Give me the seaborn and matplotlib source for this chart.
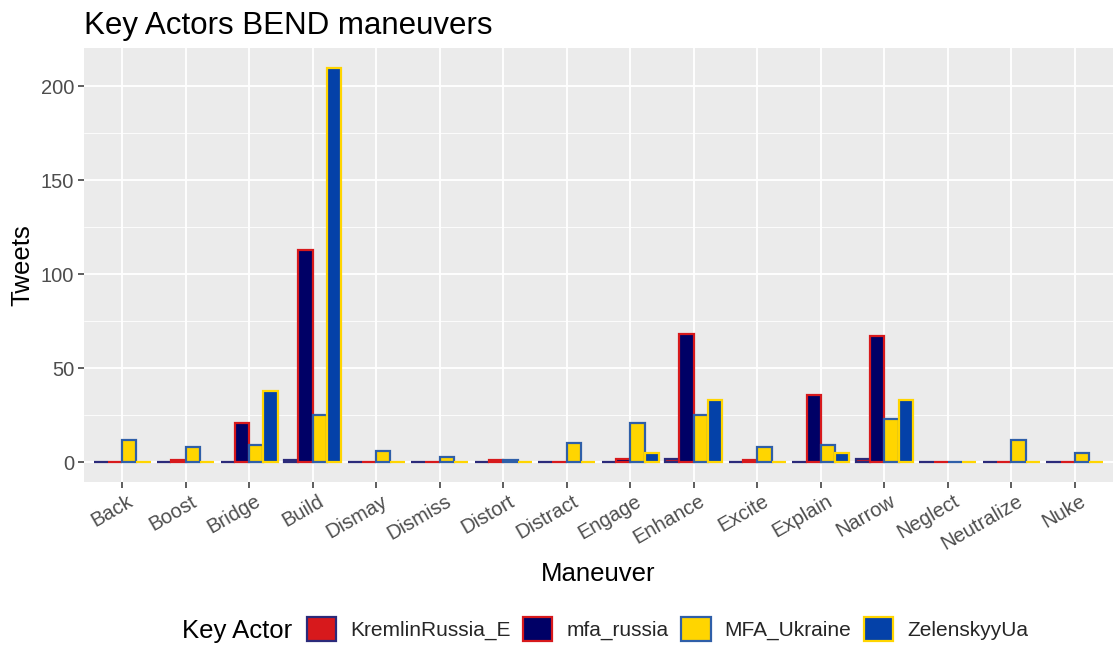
import numpy as np
import pandas as pd
import matplotlib
matplotlib.use("Agg")
import matplotlib.pyplot as plt
import matplotlib.transforms as mtransforms
import seaborn as sns
from matplotlib.patches import Patch

maneuvers = ["Back", "Boost", "Bridge", "Build", "Dismay", "Dismiss", "Distort",
             "Distract", "Engage", "Enhance", "Excite", "Explain", "Narrow",
             "Neglect", "Neutralize", "Nuke"]
actors = ["KremlinRussia_E", "mfa_russia", "MFA_Ukraine", "ZelenskyyUa"]

kremlin = [0, 0, 0, 1, 0, 0, 0, 0, 0, 2, 0, 0, 2, 0, 0, 0]
mfa_russia = [0, 1, 21, 113, 0, 0, 1, 0, 2, 68, 1, 36, 67, 0, 0, 0]
mfa_ukraine = [12, 8, 9, 25, 6, 3, 1, 10, 21, 25, 8, 9, 23, 0, 12, 5]
zelensky = [0, 0, 38, 210, 0, 0, 0, 0, 5, 33, 0, 5, 33, 0, 0, 0]

fills = {"KremlinRussia_E": "#D7191C", "mfa_russia": "#000066",
         "MFA_Ukraine": "#FFD500", "ZelenskyyUa": "#0441A8"}
edges = {"KremlinRussia_E": "#2B2A7A", "mfa_russia": "#D7191C",
         "MFA_Ukraine": "#2F5FA8", "ZelenskyyUa": "#FFD500"}

df = pd.DataFrame({
    "Maneuver": maneuvers * 4,
    "Key Actor": np.repeat(actors, len(maneuvers)),
    "Tweets": kremlin + mfa_russia + mfa_ukraine + zelensky,
})

sns.set_theme(style="darkgrid", rc={
    "axes.facecolor": "#EBEBEB", "grid.color": "white",
    "axes.edgecolor": "none",
    "xtick.bottom": True, "ytick.left": True,
    "xtick.major.size": 4.5, "ytick.major.size": 4.5,
    "xtick.major.width": 1.1, "ytick.major.width": 1.1,
    "xtick.color": "#333333", "ytick.color": "#333333"})
plt.rcParams["font.family"] = ["Liberation Sans", "DejaVu Sans"]

fig = plt.figure(figsize=(11.16, 6.45), dpi=100)
ax = fig.add_axes([0.0753, 0.2527, 0.922, 0.673])

sns.barplot(data=df, x="Maneuver", y="Tweets", hue="Key Actor",
            hue_order=actors, palette=fills, width=0.9, ax=ax,
            legend=False, saturation=1, linewidth=1.6)

for container, actor in zip(ax.containers, actors):
    for bar in container:
        bar.set_edgecolor(edges[actor])
        bar.set_linewidth(1.6)

ax.set_ylim(-10.5, 220.5)
ax.set_xlim(-0.6, len(maneuvers) - 0.4)
ax.set_yticks([0, 50, 100, 150, 200])
ax.set_yticks([25, 75, 125, 175], minor=True)
ax.grid(True, which="major", color="white", linewidth=1.3)
ax.grid(True, which="minor", axis="y", color="white", linewidth=0.6)
ax.set_axisbelow(True)

ax.tick_params(axis="both", which="major", labelsize=14.5,
               labelcolor="#4D4D4D", bottom=True, left=True, length=4.5,
               width=1.1, color="#333333", pad=2.5)
ax.tick_params(axis="y", which="minor", length=0)
# rotated category labels, nudged slightly right of their ticks
shift = mtransforms.ScaledTranslation(5 / 100, 0, fig.dpi_scale_trans)
for lbl in ax.get_xticklabels():
    lbl.set_rotation(30)
    lbl.set_ha("right")
    lbl.set_rotation_mode("anchor")
    lbl.set_transform(lbl.get_transform() + shift)
ax.set_xlabel("Maneuver", fontsize=18.5, color="black", labelpad=6)
ax.set_ylabel("Tweets", fontsize=18.5, color="black", labelpad=5)
ax.set_title("Key Actors BEND maneuvers", fontsize=22.5, loc="left",
             color="black", pad=10, x=0.0)

handles = [Patch(facecolor=fills[a], edgecolor=edges[a], linewidth=1.6)
           for a in actors]
fig.text(0.163, 0.021, "Key Actor", fontsize=18.5, color="black", va="center")
fig.legend(handles, actors, loc="lower left", bbox_to_anchor=(0.273, 0.003),
           ncol=4, frameon=False, fontsize=15, handlelength=1.4,
           handleheight=1.4, handletextpad=0.67, columnspacing=0.62,
           borderaxespad=0, borderpad=0.1)

fig.savefig("out.png", dpi=100)
